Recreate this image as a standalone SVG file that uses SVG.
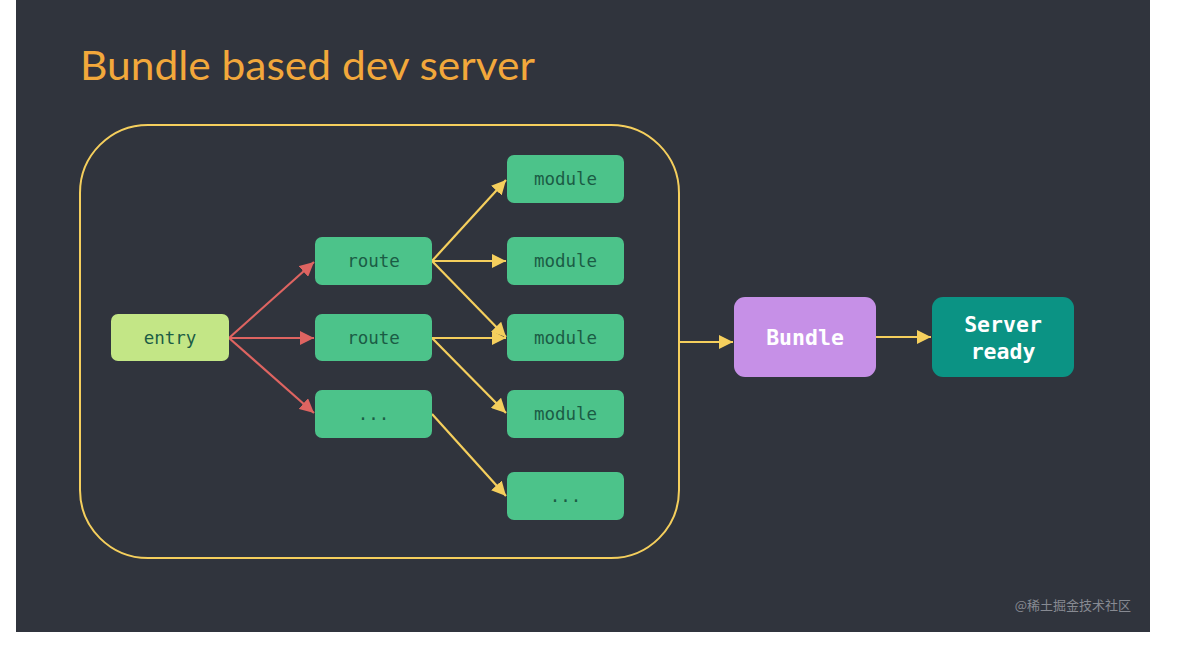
<svg xmlns="http://www.w3.org/2000/svg" width="1177" height="649" viewBox="0 0 1177 649">
<defs>
<style>
.n{fill:#4cc38a}
.t{font-family:"DejaVu Sans Mono","Liberation Mono",monospace;font-size:17.5px;fill:#1b5c45;text-anchor:middle;dominant-baseline:central}
.b{font-family:"DejaVu Sans Mono","Liberation Mono",monospace;font-size:21.5px;font-weight:bold;fill:#ffffff;text-anchor:middle;dominant-baseline:central}
.r{stroke:#de6461;stroke-width:2.2;fill:none;marker-end:url(#ar)}
.y{stroke:#f5cf5d;stroke-width:2.2;fill:none;marker-end:url(#ay)}
</style>
<marker id="ar" viewBox="0 0 10 10" refX="10" refY="5" markerWidth="6.5" markerHeight="6.5" orient="auto" markerUnits="strokeWidth"><path d="M0,0L10,5L0,10z" fill="#de6461"/></marker>
<marker id="ay" viewBox="0 0 10 10" refX="10" refY="5" markerWidth="6.5" markerHeight="6.5" orient="auto" markerUnits="strokeWidth"><path d="M0,0L10,5L0,10z" fill="#f5cf5d"/></marker>
</defs>
<rect x="0" y="0" width="1177" height="649" fill="#ffffff"/>
<rect x="16" y="0" width="1134" height="632" fill="#30343d"/>
<text x="80" y="80" font-family="Lato,'Noto Sans',sans-serif" font-size="41" fill="#f2a83b" textLength="455" lengthAdjust="spacingAndGlyphs">Bundle based dev server</text>
<rect id="container" x="80" y="125" width="599" height="433" rx="68" fill="none" stroke="#f5cf5d" stroke-width="2"/>
<g id="connectors">
<path class="r" d="M229,338L314,262"/>
<path class="r" d="M229,338L314,338"/>
<path class="r" d="M229,338L314,413"/>
<path class="y" d="M432,261L506,180"/>
<path class="y" d="M432,261L506,261"/>
<path class="y" d="M432,261L506,337"/>
<path class="y" d="M432,338L506,338"/>
<path class="y" d="M432,338L506,413"/>
<path class="y" d="M432,414L506,496"/>
<path class="y" d="M679,342L733,342"/>
<path class="y" d="M876,337L931,337"/>
</g>
<g id="entry"><rect x="111" y="314" width="118" height="47" rx="7" fill="#c3e686"/><text class="t" x="170" y="338">entry</text></g>
<g id="route1"><rect class="n" x="315" y="237" width="117" height="48" rx="7"/><text class="t" x="373.5" y="261">route</text></g>
<g id="route2"><rect class="n" x="315" y="314" width="117" height="47" rx="7"/><text class="t" x="373.5" y="338">route</text></g>
<g id="route3"><rect class="n" x="315" y="390" width="117" height="48" rx="7"/><text class="t" x="373.5" y="414">...</text></g>
<g id="module1"><rect class="n" x="507" y="155" width="117" height="48" rx="7"/><text class="t" x="565.5" y="179">module</text></g>
<g id="module2"><rect class="n" x="507" y="237" width="117" height="48" rx="7"/><text class="t" x="565.5" y="261">module</text></g>
<g id="module3"><rect class="n" x="507" y="314" width="117" height="47" rx="7"/><text class="t" x="565.5" y="338">module</text></g>
<g id="module4"><rect class="n" x="507" y="390" width="117" height="48" rx="7"/><text class="t" x="565.5" y="414">module</text></g>
<g id="module5"><rect class="n" x="507" y="472" width="117" height="48" rx="7"/><text class="t" x="565.5" y="496">...</text></g>
<g id="bundle"><rect x="734" y="297" width="142" height="80" rx="11" fill="#c690e7"/><text class="b" x="805" y="337">Bundle</text></g>
<g id="server"><rect x="932" y="297" width="142" height="80" rx="11" fill="#0b9384"/><text class="b" x="1003" y="324">Server</text><text class="b" x="1003" y="351">ready</text></g>
<text x="1131" y="610" font-family="'Noto Sans CJK SC',sans-serif" font-size="13" fill="#878a92" text-anchor="end">@稀土掘金技术社区</text>
</svg>
